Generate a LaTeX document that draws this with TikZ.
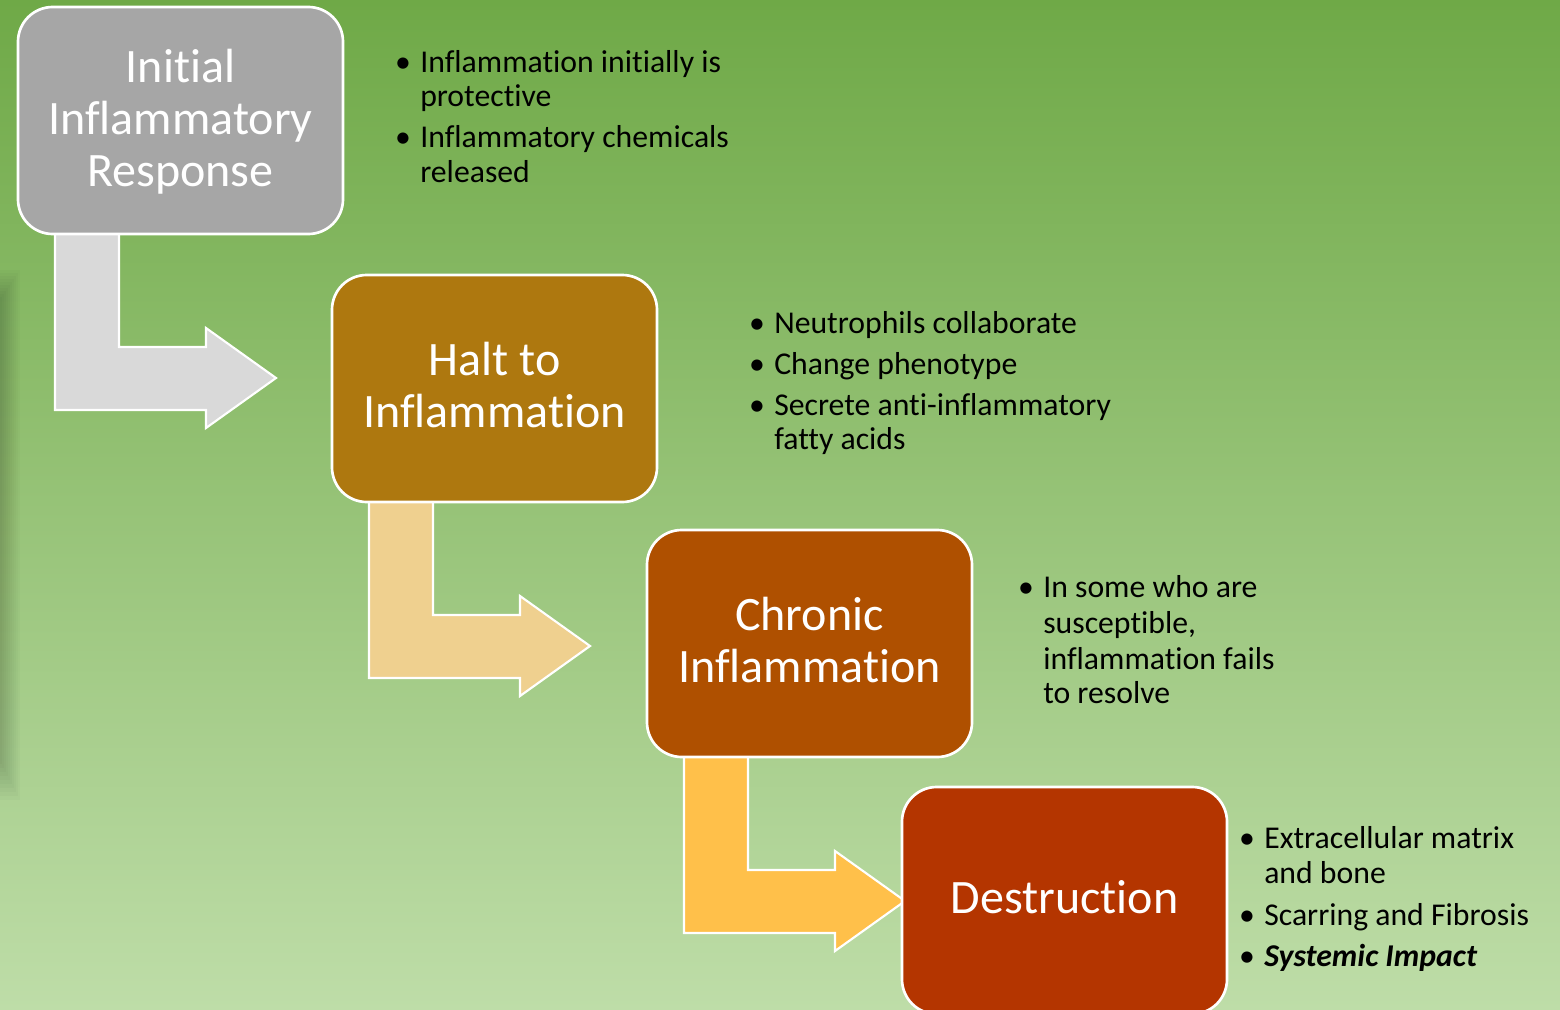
\documentclass[tikz,border=0pt]{standalone}
\usepackage{fontspec}
\setmainfont{Carlito}[Ligatures=NoCommon]
\usetikzlibrary{calc}
\definecolor{bgtop}{RGB}{111,169,71}
\definecolor{bgbot}{RGB}{190,221,168}
\definecolor{boxgray}{RGB}{166,166,166}
\definecolor{boxhalt}{RGB}{174,120,15}
\definecolor{boxchronic}{RGB}{175,80,0}
\definecolor{boxdestr}{RGB}{180,53,0}
\definecolor{arrgray}{RGB}{217,217,217}
\definecolor{arrtan}{RGB}{239,208,143}
\definecolor{arrgold}{RGB}{255,192,74}
\pgfdeclarelayer{bgfill}
\pgfdeclarelayer{arrowlayer}
\pgfsetlayers{bgfill,arrowlayer,main}
\begin{document}
\begin{tikzpicture}[x=0.75pt,y=-0.75pt,
  stage/.style={draw=white, line width=2pt, rounded corners=26pt,
    minimum width=243.75pt, minimum height=170.25pt, inner sep=0pt,
    outer sep=0pt, anchor=north west},
  stagetxt/.style={text=white, font=\fontsize{36}{40}\selectfont,
    inner sep=0pt, anchor=base},
  bendarrow/.style={draw=white, line width=1.6pt, line join=miter},
  bullettxt/.style={text=black, font=\fontsize{23.8}{28}\selectfont,
    inner sep=0pt, anchor=base west},
  bulletdot/.style={text=black, font=\fontsize{23.8}{28}\selectfont,
    inner sep=0pt, anchor=base}]
\useasboundingbox (0,0) rectangle (1560,1010);
\begin{pgfonlayer}{bgfill}
  \shade[top color=bgtop, bottom color=bgbot] (0,0) rectangle (1560,1010);
  \foreach \i in {0,...,9}{
    \pgfmathsetmacro{\op}{0.018}
    \fill[black, opacity=\op] (0,{270+3*\i}) rectangle ({20-2*\i},{800-4*\i});
  }
\end{pgfonlayer}

% stages
\node[stage, fill=boxgray] (b1) at (18,7) {};
\node[stage, fill=boxhalt] (b2) at (332,275) {};
\node[stage, fill=boxchronic] (b3) at (647,530) {};
\node[stage, fill=boxdestr] (b4) at (902,787) {};

\node[stagetxt] (b1a) at ($(b1.center)+(0,-38.5)$) {Initial};
\node[stagetxt] (b1b) at ($(b1.center)+(0,13.5)$) {Inflammatory};
\node[stagetxt] (b1c) at ($(b1.center)+(0,65.5)$) {Response};
\node[stagetxt] (b2a) at ($(b2.center)+(0,-13)$) {Halt to};
\node[stagetxt] (b2b) at ($(b2.center)+(0,39)$) {Inflammation};
\node[stagetxt] (b3a) at ($(b3.center)+(0,-13)$) {Chronic};
\node[stagetxt] (b3b) at ($(b3.center)+(0,39)$) {Inflammation};
\node[stagetxt] (b4a) at ($(b4.center)+(0,12.5)$) {Destruction};

% bent arrows (behind the boxes)
\begin{pgfonlayer}{arrowlayer}
  \foreach \src/\col in {b1/arrgray, b2/arrtan, b3/arrgold}{
    \filldraw[bendarrow, fill=\col] ($(\src.south west)+(37,-4)$) -- ++(64,0)
      -- ++(0,117) -- ++(87,0) -- ++(0,-19) -- ++(70,50) -- ++(-70,50)
      -- ++(0,-18) -- ++(-151,0) -- cycle;
  }
\end{pgfonlayer}

% bullet list 1
\node[bulletdot] (d11) at (403,72) {•};
\node[bullettxt] (t11) at (420,72) {Inflammation initially is};
\node[bullettxt] (t12) at (420,106) {protective};
\node[bulletdot] (d12) at (403,147) {•};
\node[bullettxt] (t13) at (420,147) {Inflammatory chemicals};
\node[bullettxt] (t14) at (420,182) {released};

% bullet list 2
\node[bulletdot] (d21) at (757,333) {•};
\node[bullettxt] (t21) at (774,333) {Neutrophils collaborate};
\node[bulletdot] (d22) at (757,374) {•};
\node[bullettxt] (t22) at (774,374) {Change phenotype};
\node[bulletdot] (d23) at (757,415) {•};
\node[bullettxt] (t23) at (774,415) {Secrete anti-inflammatory};
\node[bullettxt] (t24) at (774,449) {fatty acids};

% bullet list 3
\node[bulletdot] (d31) at (1026,597) {•};
\node[bullettxt] (t31) at (1043,597) {In some who are};
\node[bullettxt] (t32) at (1043,633) {susceptible,};
\node[bullettxt] (t33) at (1043,669) {inflammation fails};
\node[bullettxt] (t34) at (1043,703) {to resolve};

% bullet list 4
\node[bulletdot] (d41) at (1247,848) {•};
\node[bullettxt] (t41) at (1264,848) {Extracellular matrix};
\node[bullettxt] (t42) at (1264,883) {and bone};
\node[bulletdot] (d42) at (1247,925) {•};
\node[bullettxt] (t43) at (1264,925) {Scarring and Fibrosis};
\node[bulletdot] (d43) at (1247,966) {•};
\node[bullettxt] (t44) at (1264,966) {\bfseries\itshape Systemic Impact};
\end{tikzpicture}
\end{document}
